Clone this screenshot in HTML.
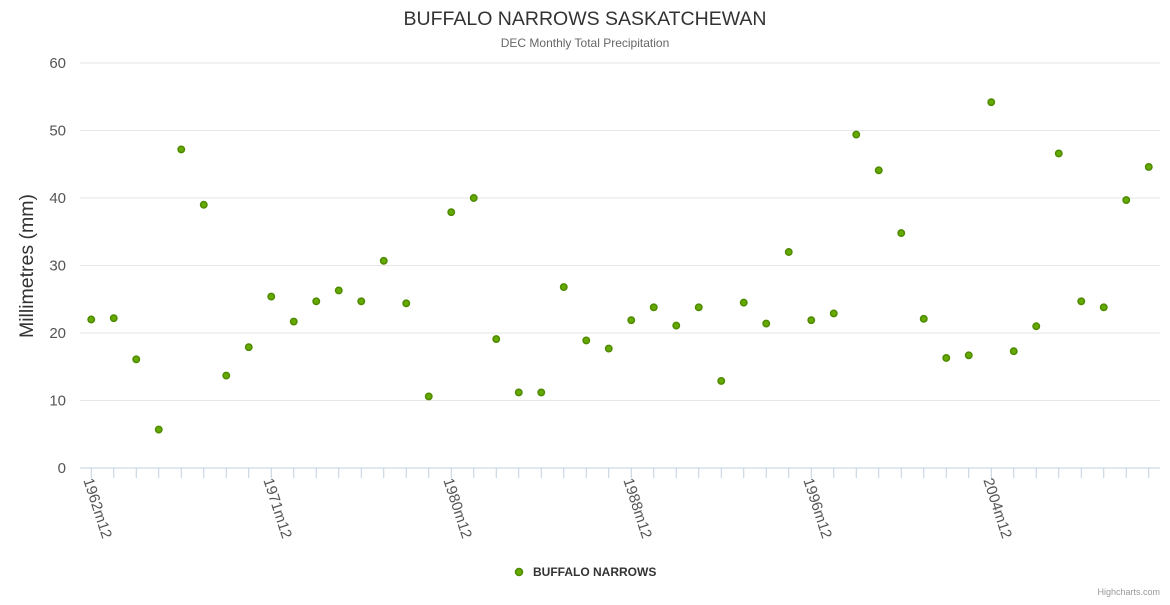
<!DOCTYPE html>
<html><head><meta charset="utf-8"><style>
body{margin:0;background:#fff;font-family:"Liberation Sans",sans-serif;}
</style></head><body>
<svg width="1170" height="600" xmlns="http://www.w3.org/2000/svg" font-family="Liberation Sans, sans-serif">
<text x="585" y="25" text-anchor="middle" font-size="19.5" fill="#333">BUFFALO NARROWS SASKATCHEWAN</text>
<text x="585" y="47" text-anchor="middle" font-size="12" fill="#666">DEC Monthly Total Precipitation</text>
<text transform="translate(33,266) rotate(-90)" text-anchor="middle" font-size="19.5" fill="#333">Millimetres (mm)</text>
<g id="grid"></g><g id="xaxis"></g><g id="pts"></g>
<g>
<circle cx="519" cy="572" r="3.5" fill="#66aa00" stroke="#4d8a00" stroke-width="1.5"/>
<text x="533" y="576" font-size="12" font-weight="bold" fill="#333">BUFFALO NARROWS</text></g>
<text x="1160" y="595" text-anchor="end" font-size="9" fill="#999">Highcharts.com</text>
</svg>
<script>
const categories=[];
const years=[1962,1963,1964,1965,1966,1967,1968,1969,1971,1972,1973,1974,1975,1976,1977,1978,1980,1981,1982,1983,1984,1985,1986,1987,1988,1989,1990,1991,1992,1993,1994,1995,1996,1997,1998,1999,2000,2001,2002,2003,2004,2005,2006,2007,2008,2009,2010,2011];
years.forEach(y=>categories.push(y+'m12'));
const values=[22.0,22.2,16.1,5.7,47.2,39.0,13.7,17.9,25.4,21.7,24.7,26.3,24.7,30.7,24.4,10.6,37.9,40.0,19.1,11.2,11.2,26.8,18.9,17.7,21.9,23.8,21.1,23.8,12.9,24.5,21.4,32.0,21.9,22.9,49.4,44.1,34.8,22.1,16.3,16.7,54.2,17.3,21.0,46.6,24.7,23.8,39.7,44.6];
const yTicks=[0,10,20,30,40,50,60];
const NS='http://www.w3.org/2000/svg';
const L=80,R=1160,T=63,B=468;
const bw=(R-L)/categories.length;
const xs=i=>L+bw*(i+0.5);
const ys=v=>B-(v/60)*(B-T);
function mk(t,a,p){const e=document.createElementNS(NS,t);for(const k in a)e.setAttribute(k,a[k]);p.appendChild(e);return e;}
const g=document.getElementById('grid');
yTicks.forEach(v=>{
  const l=mk('line',{x1:L,x2:R,y1:ys(v),y2:ys(v),stroke:v===0?'#c0d0e0':'#e6e6e6'},g);
  
  
  const t=mk('text',{x:66,y:ys(v)+5,'text-anchor':'end','font-size':15,fill:'#555'},g);
  t.textContent=v;
  
  
});
const xa=document.getElementById('xaxis');
categories.forEach((c,i)=>{
  const x=xs(i);
  const tk=mk('line',{x1:x,x2:x,y1:B,y2:B+10,stroke:'#c0d0e0'},xa);
  
  
  if(i%8===0){
    const t=mk('text',{transform:`translate(${x-8},${B+12}) rotate(72)`,'font-size':15,fill:'#555'},xa);
    t.textContent=c;
    
    
  }
});
const pg=document.getElementById('pts');
values.forEach((v,i)=>{
  const c=mk('circle',{cx:xs(i),cy:ys(v),r:3.2,fill:'#66aa00',stroke:'#4d8a00','stroke-width':1.5},pg);
  
  
});
</script>
</body></html>
